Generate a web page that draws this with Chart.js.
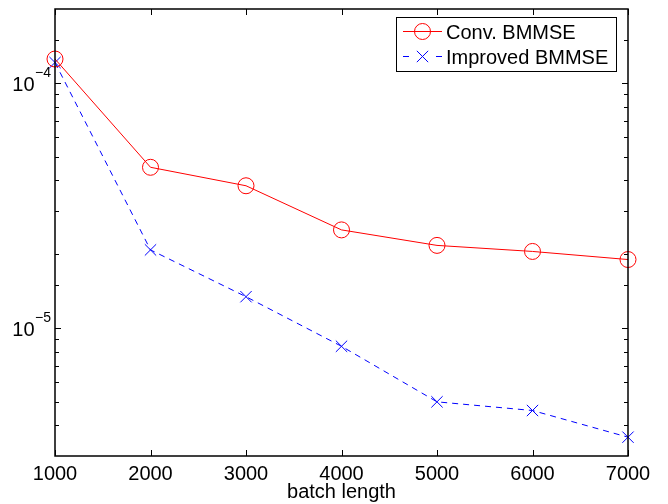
<!DOCTYPE html>
<html>
<head>
<meta charset="utf-8">
<script src="https://cdn.jsdelivr.net/npm/chart.js@4/dist/chart.umd.min.js"></script>
<style>
html,body{margin:0;padding:0;background:#fff;}
#wrap{width:668px;height:504px;}
</style>
</head>
<body>
<div id="wrap"><canvas id="c" width="668" height="504"></canvas></div>
<script>
const batchLengths = [1000, 2000, 3000, 4000, 5000, 6000, 7000];
const convBMMSE = [1.25e-4, 4.52e-5, 3.8e-5, 2.51e-5, 2.17e-5, 2.05e-5, 1.90e-5];
const improvedBMMSE = [1.21e-4, 2.08e-5, 1.34e-5, 8.41e-6, 4.99e-6, 4.60e-6, 3.58e-6];
const xTicks = [1000, 2000, 3000, 4000, 5000, 6000, 7000];
const yDecades = [1e-5, 1e-4];
const yDecadeExp = ['\u22125', '\u22124'];
const seriesNames = ['Conv. BMMSE', 'Improved BMMSE'];

const FONT = '"Liberation Sans", Arial, Helvetica, sans-serif';

const matlabAxes = {
  id: 'matlabAxes',
  afterDraw(chart) {
    const ctx = chart.ctx;
    const a = chart.chartArea;
    const xs = chart.scales.x, ys = chart.scales.y;
    ctx.save();
    ctx.strokeStyle = '#000';
    ctx.lineWidth = 1.5;
    ctx.strokeRect(a.left, a.top, a.right - a.left, a.bottom - a.top);
    ctx.lineWidth = 1;
    ctx.beginPath();
    xTicks.forEach(v => {
      const px = Math.round(xs.getPixelForValue(v)) + 0.5;
      ctx.moveTo(px, a.bottom); ctx.lineTo(px, a.bottom - 6);
      ctx.moveTo(px, a.top); ctx.lineTo(px, a.top + 6);
    });
    ys.ticks.forEach(t => {
      const v = t.value;
      const e = Math.log10(v);
      const major = Math.abs(e - Math.round(e)) < 1e-9;
      const len = major ? 6 : 4;
      const py = Math.round(ys.getPixelForValue(v)) + 0.5;
      if (py < a.top + 1 || py > a.bottom - 1) return;
      ctx.moveTo(a.left, py); ctx.lineTo(a.left + len, py);
      ctx.moveTo(a.right, py); ctx.lineTo(a.right - len, py);
    });
    ctx.stroke();
    ctx.fillStyle = '#000';
    yDecades.forEach((v, i) => {
      const py = ys.getPixelForValue(v);
      ctx.font = '20px ' + FONT;
      ctx.textAlign = 'right';
      ctx.textBaseline = 'alphabetic';
      ctx.fillText('10', 34.5, py + 8.5);
      ctx.font = '14px ' + FONT;
      ctx.textAlign = 'left';
      ctx.fillText(yDecadeExp[i], 35, py - 5.5);
    });
    const bx = 396, by = 17, bw = 220, bh = 54;
    ctx.fillStyle = '#fff';
    ctx.fillRect(bx, by, bw, bh);
    ctx.strokeStyle = '#000';
    ctx.lineWidth = 1;
    ctx.strokeRect(bx + 0.5, by + 0.5, bw, bh);
    chart.data.datasets.forEach((ds, i) => {
      const ry = i === 0 ? 31.5 : 56.5;
      ctx.strokeStyle = ds.borderColor;
      ctx.lineWidth = 1;
      ctx.beginPath();
      if (ds.borderDash) {
        ctx.moveTo(403, ry); ctx.lineTo(409, ry);
        ctx.moveTo(436, ry); ctx.lineTo(442, ry);
      } else {
        ctx.moveTo(403, ry); ctx.lineTo(442, ry);
      }
      ctx.stroke();
      ctx.beginPath();
      if (ds.pointStyle === 'circle') {
        ctx.arc(422.5, ry, ds.pointRadius, 0, Math.PI * 2);
      } else {
        const d = ds.pointRadius * Math.SQRT1_2;
        ctx.moveTo(422.5 - d, ry - d); ctx.lineTo(422.5 + d, ry + d);
        ctx.moveTo(422.5 - d, ry + d); ctx.lineTo(422.5 + d, ry - d);
      }
      ctx.stroke();
      ctx.fillStyle = '#000';
      ctx.font = '20px ' + FONT;
      ctx.textAlign = 'left';
      ctx.textBaseline = 'alphabetic';
      ctx.fillText(ds.label, 446, ry + 7.5);
    });
    ctx.restore();
  }
};

new Chart(document.getElementById('c'), {
  type: 'line',
  data: {
    datasets: [
      {
        label: seriesNames[0],
        data: batchLengths.map((x, i) => ({x: x, y: convBMMSE[i]})),
        borderColor: '#ff0000',
        backgroundColor: 'rgba(0,0,0,0)',
        borderWidth: 1,
        pointStyle: 'circle',
        pointRadius: 8,
        pointBorderWidth: 1,
        pointBorderColor: '#ff0000',
        pointBackgroundColor: 'rgba(0,0,0,0)',
        tension: 0,
        clip: false
      },
      {
        label: seriesNames[1],
        data: batchLengths.map((x, i) => ({x: x, y: improvedBMMSE[i]})),
        borderColor: '#0000ff',
        backgroundColor: 'rgba(0,0,0,0)',
        borderWidth: 1,
        borderDash: [6, 5],
        pointStyle: 'crossRot',
        pointRadius: 8,
        pointBorderWidth: 1,
        pointBorderColor: '#0000ff',
        tension: 0,
        clip: false
      }
    ]
  },
  options: {
    responsive: false,
    animation: false,
    devicePixelRatio: 1,
    layout: {padding: {left: 0, right: 40, top: 7, bottom: 0}},
    plugins: {legend: {display: false}, tooltip: {enabled: false}},
    scales: {
      x: {
        type: 'linear',
        min: 1000, max: 7000,
        afterBuildTicks(s) { s.ticks = xTicks.map(v => ({value: v})); },
        afterFit(s) { s.height = 48; },
        grid: {display: false, drawTicks: false},
        border: {display: false},
        ticks: {
          color: '#000',
          font: {family: FONT, size: 20},
          padding: 6,
          maxRotation: 0,
          autoSkip: false,
          callback: v => String(v)
        },
        title: {
          display: true,
          text: 'batch length',
          color: '#000',
          font: {family: FONT, size: 20},
          padding: {top: 1, bottom: 0}
        }
      },
      y: {
        type: 'logarithmic',
        min: 3e-6, max: 2e-4,
        afterFit(s) { s.width = 55; },
        grid: {display: false, drawTicks: false},
        border: {display: false},
        ticks: {display: false, autoSkip: false}
      }
    }
  },
  plugins: [matlabAxes]
});
</script>
</body>
</html>
